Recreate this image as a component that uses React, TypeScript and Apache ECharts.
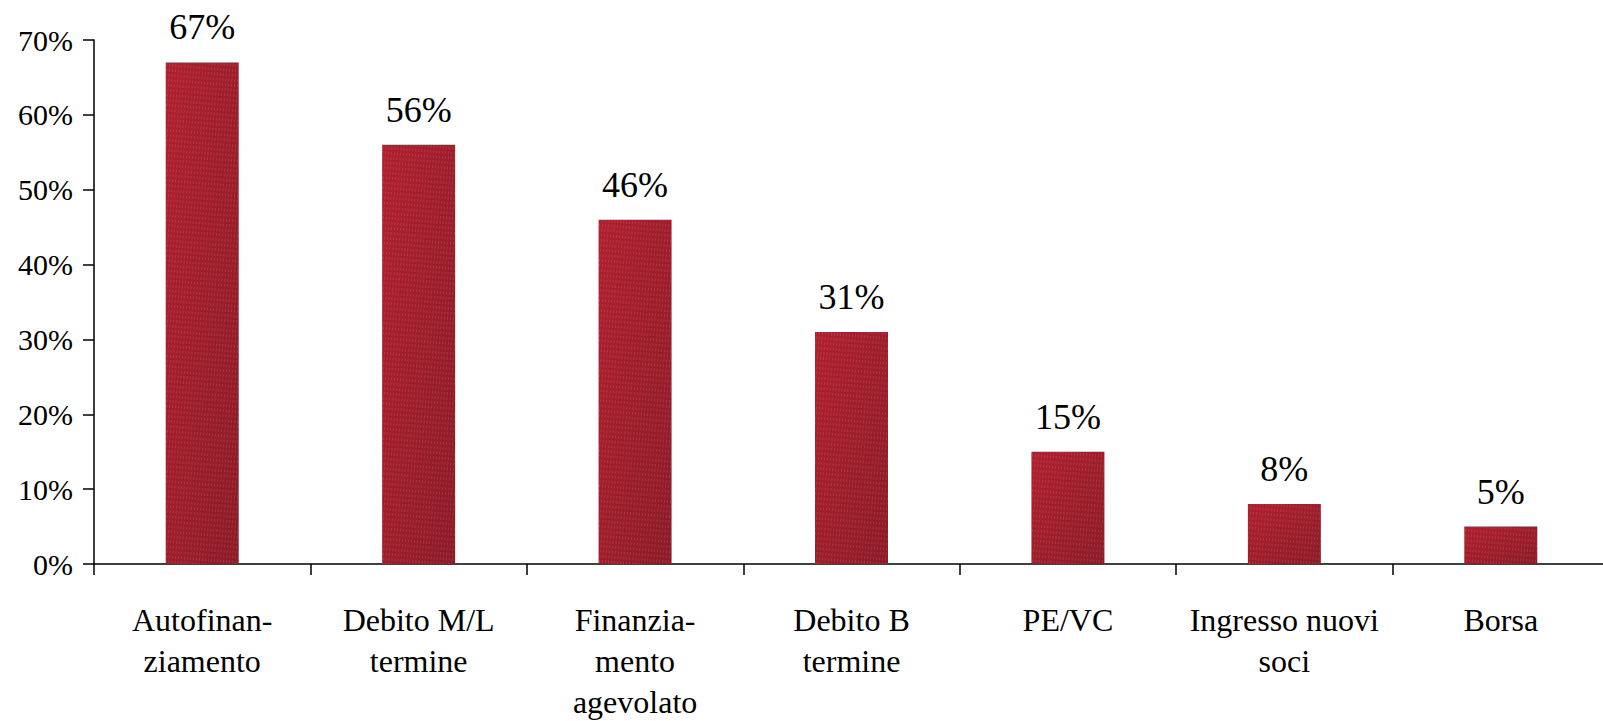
import React, { useEffect, useRef } from "react";
import * as echarts from "echarts";

const categories = [
  "Autofinan-\nziamento",
  "Debito M/L\ntermine",
  "Finanzia-\nmento\nagevolato",
  "Debito B\ntermine",
  "PE/VC",
  "Ingresso nuovi\nsoci",
  "Borsa",
];
const values = [67, 56, 46, 31, 15, 8, 5];
const yTicks = { min: 0, max: 70, interval: 10 };

const FONT = "'Liberation Serif', 'DejaVu Serif', serif";

export default function App() {
  const ref = useRef<HTMLDivElement>(null);
  useEffect(() => {
    if (!ref.current) return;
    const chart = echarts.init(ref.current, undefined, { renderer: "svg" });
    const barColor = new echarts.graphic.LinearGradient(0, 0, 1, 1, [
      { offset: 0, color: "#B01F2F" },
      { offset: 1, color: "#8C1A26" },
    ]);
    chart.setOption({
      animation: false,
      backgroundColor: "#ffffff",
      grid: {
        left: 94,
        top: 40,
        width: 1515,
        height: 524,
        containLabel: false,
        outerBoundsMode: "none",
      },
      xAxis: {
        type: "category",
        data: categories,
        axisLine: { show: true, lineStyle: { color: "#000", width: 1.5 } },
        axisTick: { show: true, length: 11, alignWithLabel: false, lineStyle: { color: "#000", width: 1.5 } },
        axisLabel: {
          interval: 0,
          margin: 35,
          color: "#000",
          fontFamily: FONT,
          fontSize: 32,
          lineHeight: 41,
          align: "center",
        },
        splitLine: { show: false },
      },
      yAxis: {
        type: "value",
        min: yTicks.min,
        max: yTicks.max,
        interval: yTicks.interval,
        axisLine: { show: true, lineStyle: { color: "#000", width: 1.5 } },
        axisTick: { show: true, length: 11, lineStyle: { color: "#000", width: 1.5 } },
        axisLabel: {
          margin: 21,
          color: "#000",
          fontFamily: FONT,
          fontSize: 30,
          formatter: "{value}%",
        },
        splitLine: { show: false },
      },
      series: [
        {
          type: "bar",
          data: values,
          barWidth: 73,
          itemStyle: {
            color: barColor,
            decal: {
              symbol: "rect",
              symbolSize: 1,
              color: "rgba(255,255,255,0.12)",
              dashArrayX: [1, 2],
              dashArrayY: [3, 2],
              rotation: 0.08,
            },
          },
          label: {
            show: true,
            position: "top",
            distance: 17,
            formatter: "{c}%",
            color: "#000",
            fontFamily: FONT,
            fontSize: 36,
            lineHeight: 36,
          },
        },
      ],
    });
    return () => chart.dispose();
  }, []);
  return (
    <div
      ref={ref}
      style={{ position: "absolute", left: 0, top: 0, width: 1603, height: 721 }}
    />
  );
}
